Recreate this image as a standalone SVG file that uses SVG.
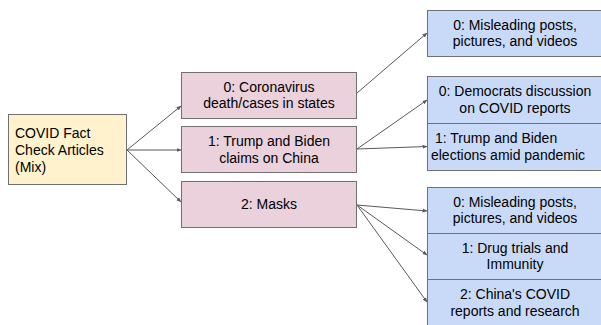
<svg xmlns="http://www.w3.org/2000/svg" width="601" height="325" viewBox="0 0 601 325">
<defs>
<marker id="ah" viewBox="0 0 10 10" refX="9" refY="5" markerWidth="5" markerHeight="5" orient="auto" markerUnits="userSpaceOnUse">
<path d="M0,1 L10,5 L0,9 z" fill="#595959"/>
</marker>
<style>
text{font-family:"Liberation Sans",Arial,sans-serif;font-size:14px;fill:#000}
.c{text-anchor:middle}
.y{fill:#fff2cc;stroke:#707070;stroke-width:1}
.p{fill:#ead1dc;stroke:#707070;stroke-width:1}
.b{fill:#c9daf8;stroke:#707070;stroke-width:1}
.e{stroke:#595959;stroke-width:1;fill:none;marker-end:url(#ah)}
</style>
</defs>
<rect width="601" height="325" fill="#ffffff"/>
<g id="connectors">
<line class="e" x1="127" y1="150" x2="181" y2="106"/>
<line class="e" x1="127" y1="150" x2="181" y2="150"/>
<line class="e" x1="127" y1="150" x2="181" y2="202"/>
<line class="e" x1="357" y1="93" x2="427" y2="33"/>
<line class="e" x1="357" y1="149" x2="427" y2="100"/>
<line class="e" x1="357" y1="149" x2="427" y2="146.5"/>
<line class="e" x1="357" y1="205" x2="427" y2="211"/>
<line class="e" x1="357" y1="205" x2="427" y2="255"/>
<line class="e" x1="357" y1="205" x2="427" y2="302"/>
</g>
<g id="root">
<rect class="y" x="8.5" y="114.5" width="118" height="70"/>
<text x="15" y="138">COVID Fact</text>
<text x="15" y="155">Check Articles</text>
<text x="15" y="172">(Mix)</text>
</g>
<g id="t0">
<rect class="p" x="181.5" y="72.5" width="175" height="46"/>
<text class="c" x="269" y="92">0: Coronavirus</text>
<text class="c" x="269" y="108">death/cases in states</text>
</g>
<g id="t1">
<rect class="p" x="181.5" y="126.5" width="175" height="46"/>
<text class="c" x="269" y="146">1: Trump and Biden</text>
<text class="c" x="269" y="163">claims on China</text>
</g>
<g id="t2">
<rect class="p" x="181.5" y="181.5" width="175" height="46"/>
<text class="c" x="269" y="209">2: Masks</text>
</g>
<g id="t0s0">
<rect class="b" x="427.5" y="10.5" width="175" height="46"/>
<text class="c" x="515" y="30">0: Misleading posts,</text>
<text class="c" x="515" y="46">pictures, and videos</text>
</g>
<g id="t1s0">
<rect class="b" x="427.5" y="76.5" width="175" height="47"/>
<text class="c" x="515" y="96">0: Democrats discussion</text>
<text class="c" x="515" y="113">on COVID reports</text>
</g>
<g id="t1s1">
<rect class="b" x="427.5" y="123.5" width="175" height="47"/>
<text x="435" y="143">1: Trump and Biden</text>
<text class="c" x="508" y="160">elections amid pandemic</text>
</g>
<g id="t2s0">
<rect class="b" x="427.5" y="187.5" width="175" height="46"/>
<text class="c" x="515" y="207">0: Misleading posts,</text>
<text class="c" x="515" y="223">pictures, and videos</text>
</g>
<g id="t2s1">
<rect class="b" x="427.5" y="233.5" width="175" height="46"/>
<text class="c" x="515" y="253">1: Drug trials and</text>
<text class="c" x="515" y="269">Immunity</text>
</g>
<g id="t2s2">
<rect class="b" x="427.5" y="279.5" width="175" height="47"/>
<text class="c" x="515" y="299">2: China's COVID</text>
<text class="c" x="515" y="316">reports and research</text>
</g>
</svg>
